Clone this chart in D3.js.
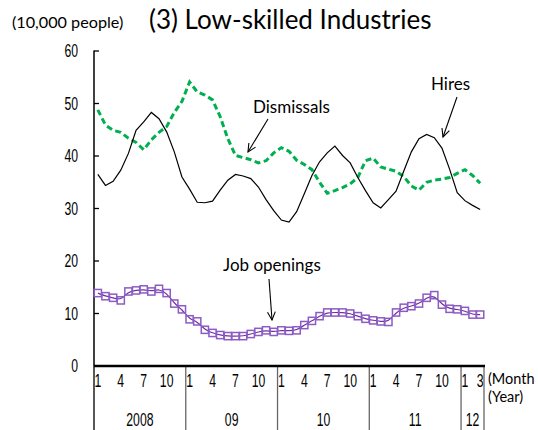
<!DOCTYPE html>
<html><head><meta charset="utf-8">
<script src="https://cdn.jsdelivr.net/npm/d3@7"></script>
<style>body{margin:0;background:#fff;}svg{display:block;}</style>
</head><body>
<svg id="c" width="538" height="430"></svg>
<script>
const years = ["2008","09","10","11","12"];
const yearMonths = [12,12,12,12,3];
const monthLabels = [1,4,7,10];
const yTicks = [0,10,20,30,40,50,60];

const hires = [36.4,34.3,35.1,37.2,40.4,44.8,46.4,48.2,47.0,44.5,40.7,35.9,
  33.6,31.1,31.0,31.3,33.4,35.3,36.4,36.1,35.6,34.0,31.6,29.5,
  27.7,27.3,29.3,32.7,36.2,38.8,40.5,41.8,40.0,38.6,35.8,33.3,
  31.0,30.0,31.6,33.2,37.0,40.7,43.2,44.0,43.4,41.4,37.4,32.9,
  31.4,30.5,29.7];
const dismissals = [48.7,45.8,44.8,44.4,43.3,42.5,41.1,43.0,44.4,45.5,48.2,50.3,
  54.0,52.1,51.5,50.6,47.4,43.2,40.0,39.6,39.2,38.6,39.0,40.5,
  41.5,40.8,39.1,38.3,37.3,34.9,32.8,33.3,33.9,34.6,35.8,39.0,
  39.5,37.8,37.4,37.0,36.0,34.2,33.4,34.9,35.3,35.5,35.8,36.6,
  37.3,36.2,34.7];
const jobOpenings = [13.8,13.2,12.9,12.4,14.1,14.3,14.5,14.1,14.6,13.8,11.8,10.7,
  8.8,8.4,6.8,6.2,5.8,5.6,5.6,5.6,6.0,6.4,6.7,6.4,
  6.7,6.6,6.7,7.7,8.5,9.4,10.1,10.1,10.1,9.9,9.4,8.9,
  8.6,8.4,8.3,10.1,11.0,11.3,11.8,12.9,13.4,11.6,10.8,10.7,
  10.4,9.7,9.7];

const svg = d3.select("#c");
const N = hires.length;
const x = d3.scaleBand().domain(d3.range(N)).range([94, 484]).paddingInner(0);
const cx = i => x(i) + x.bandwidth()/2;
const y = d3.scaleLinear().domain([0,60]).range([365.5, 50.5]);

const narrow = "Liberation Sans, Arial, sans-serif";
function narrowText(g, tx, ty, txt, anchor){
  g.append("text").attr("transform",`translate(${tx},${ty}) scale(0.66,1)`)
    .attr("text-anchor",anchor).attr("font-family",narrow).attr("font-size",18.5)
    .attr("fill","#000").text(txt);
}

// Title texts
svg.append("text").attr("x",12).attr("y",28).attr("font-family","Lato, sans-serif")
  .attr("font-size",16.2).text("(10,000 people)");
svg.append("text").attr("x",149).attr("y",29).attr("font-family","Lato, sans-serif")
  .attr("font-size",26).text("(3) Low-skilled Industries");

// y axis
const yAxis = d3.axisLeft(y).tickValues(yTicks).tickSize(-5).tickFormat("");
const ga = svg.append("g").attr("transform","translate(94,0)").call(yAxis);
ga.select(".domain").attr("stroke","#000").attr("stroke-width",1.5).attr("d",`M0,${y(60)}V430`);
ga.selectAll(".tick line").attr("stroke","#000").attr("stroke-width",1.3);
const gl = svg.append("g");
yTicks.forEach(v => narrowText(gl, 78, y(v)+6.5, String(v), "end"));

// x axis dividers and labels
const gx = svg.append("g");
let start = 0;
const bounds = [0];
yearMonths.forEach((m,k)=>{
  for(const ml of monthLabels){
    if(ml<=m) narrowText(gx, cx(start+ml-1), 387, String(ml), "middle");
  }
  if(m===3) narrowText(gx, cx(start+2), 387, "3", "middle");
  const s = start, e = start+m;
  const mid = (x(s) + (e<N ? x(e) : 484))/2;
  narrowText(gx, mid, 426, years[k], "middle");
  start = e; bounds.push(e);
});
bounds.forEach(b=>{
  const xx = b<N ? x(b) : 484;
  gx.append("line").attr("x1",xx).attr("x2",xx).attr("y1",366).attr("y2",430)
    .attr("stroke","#666").attr("stroke-width",1.3);
});
svg.append("line").attr("x1",94).attr("x2",485).attr("y1",366).attr("y2",366)
  .attr("stroke","#000").attr("stroke-width",2.5);
svg.append("text").attr("x",488).attr("y",384).attr("font-family","Lato, sans-serif").attr("font-size",14.5).text("(Month");
svg.append("text").attr("x",488).attr("y",402).attr("font-family","Lato, sans-serif").attr("font-size",14.5).text("(Year)");

// lines
const line = d3.line().x((d,i)=>cx(i)).y(d=>y(d));
svg.append("path").datum(dismissals).attr("d",line).attr("fill","none")
  .attr("stroke","#00B050").attr("stroke-width",3).attr("stroke-dasharray","6,3.5");
svg.append("path").datum(hires).attr("d",line).attr("fill","none")
  .attr("stroke","#000").attr("stroke-width",1.2);
svg.append("path").datum(jobOpenings).attr("d",d3.line().x((d,i)=>cx(i)).y(d=>y(d)).curve(d3.curveBasis))
  .attr("fill","none").attr("stroke","#7030A0").attr("stroke-width",1.2);
svg.append("g").selectAll("rect").data(jobOpenings).join("rect")
  .attr("x",(d,i)=>cx(i)-3.6).attr("y",d=>y(d)-3.6).attr("width",7.2).attr("height",7.2)
  .attr("fill","none").attr("stroke","#8C5CC4").attr("stroke-width",1.5);

// annotations
const ann = svg.append("g").attr("font-family","Lato, sans-serif").attr("font-size",17);
ann.append("text").attr("x",253).attr("y",113).text("Dismissals");
ann.append("text").attr("x",431).attr("y",90).text("Hires");
ann.append("text").attr("x",223).attr("y",271).text("Job openings");
function arrow(x1,y1,x2,y2){
  ann.append("line").attr("x1",x1).attr("y1",y1).attr("x2",x2).attr("y2",y2).attr("stroke","#000").attr("stroke-width",1.1);
  const a = Math.atan2(y2-y1,x2-x1), L=9, w=0.45;
  const p = [[x2-L*Math.cos(a-w), y2-L*Math.sin(a-w)],[x2,y2],[x2-L*Math.cos(a+w), y2-L*Math.sin(a+w)]];
  ann.append("path").attr("d",d3.line()(p)).attr("fill","none").attr("stroke","#000").attr("stroke-width",1.1);
}
arrow(268,119,248,152);
arrow(457,97,443,137);
arrow(269,279,272,320);
</script>
</body></html>
